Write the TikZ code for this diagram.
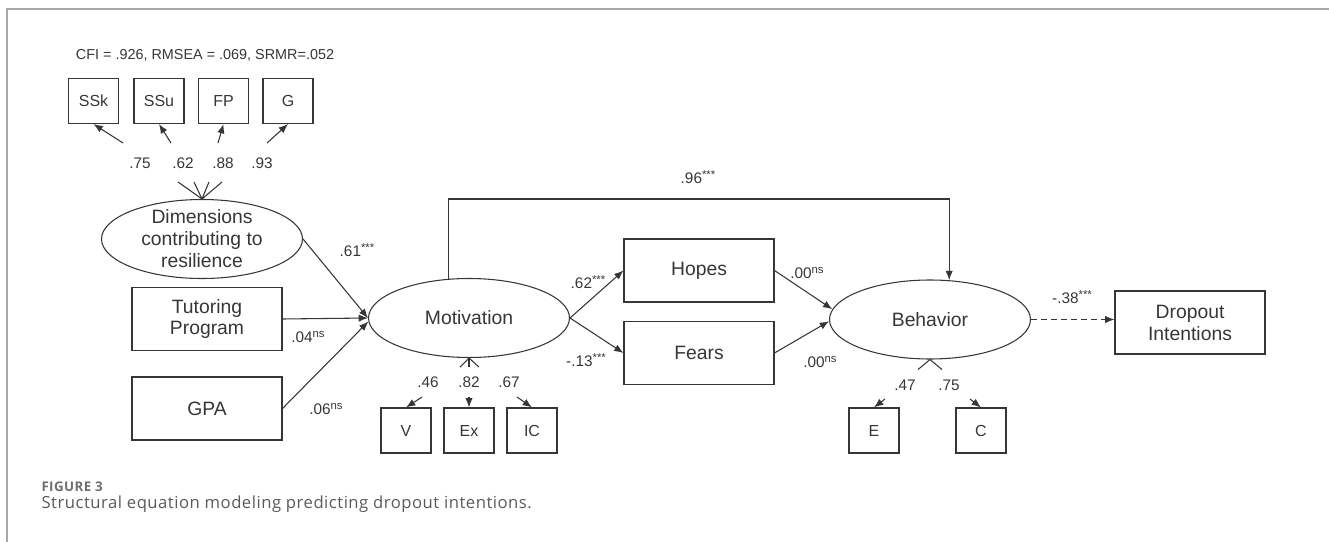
\documentclass[tikz,border=0pt]{standalone}
\usepackage{fontspec}
\setmainfont{Liberation Sans}
\newfontfamily\capfont[LetterSpace=3]{Open Sans}
\usepackage{xcolor}
\usepackage{tikz}
\usetikzlibrary{arrows.meta,shapes.geometric,positioning}
\definecolor{Ink}{HTML}{363636}
\definecolor{Frame}{HTML}{A8A8A8}
\definecolor{CapHead}{HTML}{6E6E6E}
\definecolor{CapText}{HTML}{5A5A5A}
\newcommand{\sig}[1]{\raisebox{0.3em}{\fontsize{8.5}{9}\selectfont #1}}

\begin{document}
\begin{tikzpicture}[x=0.75pt,y=-0.75pt,Ink,line width=0.8pt,
  >={Latex[length=7pt,width=5.5pt]},
  lat/.style={draw,ellipse,minimum width=150.75pt,minimum height=59.25pt,
    inner sep=0pt,align=center,font=\fontsize{14.5}{16.5}\selectfont},
  obs/.style={draw,minimum width=112.5pt,minimum height=47.25pt,
    align=center,font=\fontsize{14.5}{16.5}\selectfont},
  ind/.style={draw,minimum width=37.5pt,minimum height=33.75pt,
    inner sep=0pt,font=\fontsize{12}{14}\selectfont},
  coef/.style={inner sep=1pt,font=\fontsize{11.5}{13}\selectfont}]
  \useasboundingbox (0,0) rectangle (1329,542);
  \draw[Frame,line width=1.5pt] (7,542) -- (7,9) -- (1329,9);

  % fit indices and resilience indicators
  \node[inner sep=1pt,font=\fontsize{10.8}{12}\selectfont] (fit) at (205,55) {CFI = .926, RMSEA = .069, SRMR=.052};
  \node[ind] (ssk) at (93.5,101) {SSk};
  \node[ind] (ssu) at (159,101) {SSu};
  \node[ind] (fp) at (223.5,101) {FP};
  \node[ind] (g) at (288,101) {G};

  % latent and observed variables
  \node[lat,inner ysep=-8pt] (dim) at (202,239) {Dimensions\\contributing to\\resilience};
  \node[obs] (tut) at (207,319) {Tutoring\\Program};
  \node[obs] (gpa) at (207,408.5) {GPA};
  \node[lat] (mot) at (469,318) {Motivation};
  \node[obs] (hopes) at (699,270.5) {Hopes};
  \node[obs] (fears) at (699,353) {Fears};
  \node[lat] (beh) at (930,319.5) {Behavior};
  \node[obs] (drop) at (1190,322.5) {Dropout\\Intentions};
  \node[ind] (v) at (406,430.5) {V};
  \node[ind] (ex) at (469,430.5) {Ex};
  \node[ind] (ic) at (532,430.5) {IC};
  \node[ind] (e) at (874,430.5) {E};
  \node[ind] (c) at (981,430.5) {C};

  % loadings
  \draw (dim.north) -- ++(-24,-17);
  \draw (dim.north) -- ++(-8,-17);
  \draw (dim.north) -- ++(7,-17);
  \draw (dim.north) -- ++(20,-17);
  \node[coef] (l75) at (140,163) {.75};
  \node[coef] (l62) at (183,163) {.62};
  \node[coef] (l88) at (223,163) {.88};
  \node[coef] (l93) at (262,163) {.93};
  \coordinate (tSSk) at (123,143);
  \coordinate (tSSu) at (171,143);
  \coordinate (tFP) at (218,143);
  \coordinate (tG) at (267,143);
  \draw[->] (tSSk) -- (ssk.south);
  \draw[->] (tSSu) -- (ssu.south);
  \draw[->] (tFP) -- (fp.south);
  \draw[->] (tG) -- (g.south);

  \draw (mot.south) -- ++(-9,9);
  \draw (mot.south) -- ++(0,9);
  \draw (mot.south) -- ++(10,9);
  \node[coef] (l46) at (428,382) {.46};
  \node[coef] (l82) at (469,382) {.82};
  \node[coef] (l67) at (509,382) {.67};
  \coordinate (tV) at (422,397);
  \coordinate (tEx) at (469,397);
  \coordinate (tIC) at (517,397);
  \draw[->] (tV) -- (v.north);
  \draw[->] (tEx) -- (ex.north);
  \draw[->] (tIC) -- (ic.north);

  \draw (beh.south) -- ++(-12,10);
  \draw (beh.south) -- ++(12,10);
  \node[coef] (l47) at (905,385) {.47};
  \node[coef] (l75b) at (949,385) {.75};
  \coordinate (tE) at (885,399);
  \coordinate (tC) at (970,399);
  \draw[->] (tE) -- (e.north);
  \draw[->] (tC) -- (c.north);

  % structural paths
  \draw[->] (dim.east) -- (mot.west);
  \draw[->] (tut.east) -- (mot.west);
  \draw[->] (gpa.east) -- (mot.182);
  \draw[->] (mot.east) -- (hopes.west);
  \draw[->] (mot.east) -- (fears.west);
  \draw[->] (hopes.east) -- (beh.174);
  \draw[->] (fears.east) -- (beh.181);
  \coordinate (rail) at (698,199);
  \draw[->] (mot.118) -- (mot.118 |- rail) -- (rail -| beh.64) -- (beh.64);
  \draw[->,dash pattern=on 4.5pt off 3pt] (beh.east) -- (beh.east -| drop.west);

  \node[coef] (p61) at (357,250) {.61\sig{***}};
  \node[coef] (p04) at (308,337) {.04\sig{ns}};
  \node[coef] (p06) at (326,409) {.06\sig{ns}};
  \node[coef] (p62) at (588,282) {.62\sig{***}};
  \node[coef] (p13) at (586,360) {-.13\sig{***}};
  \node[coef] (p00a) at (807,273) {.00\sig{ns}};
  \node[coef] (p00b) at (820,362) {.00\sig{ns}};
  \node[coef] (p96) at (698,177) {.96\sig{***}};
  \node[coef] (p38) at (1072,297) {-.38\sig{***}};

  % caption
  \node[anchor=base west,inner sep=0pt,text=CapHead,
    font=\capfont\bfseries\fontsize{10}{12}\selectfont] (fig) at (41,491) {FIGURE 3};
  \node[anchor=base west,inner sep=0pt,text=CapText,
    font=\capfont\fontsize{12.5}{14}\selectfont] (cap) at (41,508)
    {Structural equation modeling predicting dropout intentions.};
\end{tikzpicture}
\end{document}
